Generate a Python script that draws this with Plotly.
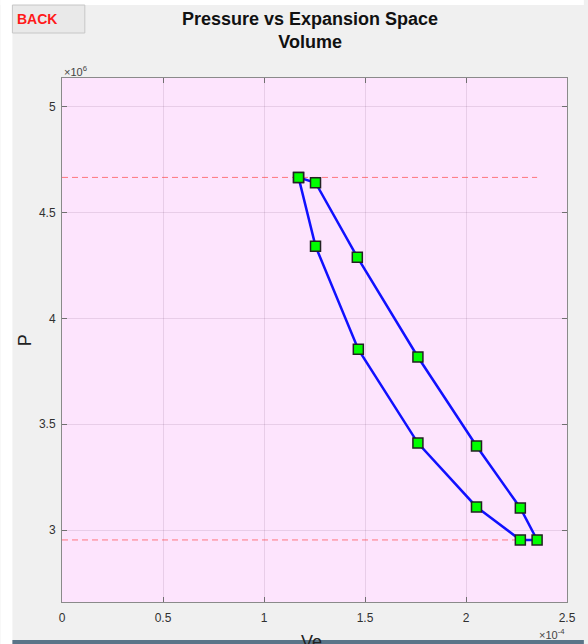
import plotly.graph_objects as go

# Data
ve_e4 = [1.171, 1.255, 1.462, 1.762, 2.052, 2.269, 2.352, 2.269, 2.052, 1.762, 1.467, 1.255, 1.171]
p_e6 = [4.667, 4.642, 4.290, 3.818, 3.397, 3.104, 2.953, 2.953, 3.109, 3.411, 3.854, 4.342, 4.667]
x_tick_vals = [0, 0.5, 1, 1.5, 2, 2.5]
y_tick_vals = [3, 3.5, 4, 4.5, 5]

ve = [v * 1e-4 for v in ve_e4]
p = [v * 1e6 for v in p_e6]
pmax, pmin, vmax = max(p), min(p), max(ve)

W, H = 588, 644
L, R, T, B = 62, 17, 78, 42
pw, ph = W - L - R, H - T - B

def px(x):
    return (x - L) / pw

def py(y):
    return (H - B - y) / ph

FONT = "Liberation Sans, Arial"

fig = go.Figure()
for lvl in (pmax, pmin):
    fig.add_trace(go.Scatter(x=[0, vmax], y=[lvl, lvl], mode="lines",
                             line=dict(color="rgba(255,60,60,0.65)", width=1, dash="6px,4px"),
                             hoverinfo="skip", showlegend=False))
fig.add_trace(go.Scatter(x=ve, y=p, mode="lines+markers",
                         line=dict(color="#1010ff", width=2.5),
                         marker=dict(symbol="square", size=10, color="#00ff00",
                                     line=dict(color="#222222", width=1.5)),
                         showlegend=False))

axis_common = dict(showline=True, linecolor="#8a8a8a", linewidth=1, mirror="ticks",
                   ticks="inside", ticklen=5, tickcolor="#707070",
                   showgrid=True, gridcolor="rgba(80,40,80,0.12)", gridwidth=1,
                   zeroline=False, tickfont=dict(family=FONT, size=12, color="#303030"))

fig.update_xaxes(range=[0, 2.5e-4], tickvals=[v * 1e-4 for v in x_tick_vals],
                 ticktext=[f"{v:g}" for v in x_tick_vals], ticklabelstandoff=5, **axis_common)
fig.update_yaxes(range=[2.6596e6, 5.137e6], tickvals=[v * 1e6 for v in y_tick_vals],
                 ticktext=[f"{v:g}" for v in y_tick_vals], ticklabelstandoff=3, **axis_common)

shapes = [
    dict(type="rect", xref="paper", yref="paper", x0=px(0), x1=px(12), y0=py(H), y1=py(0),
         fillcolor="white", line=dict(width=0), layer="below"),
    dict(type="rect", xref="paper", yref="paper", x0=px(0), x1=px(W), y0=py(5), y1=py(0),
         fillcolor="white", line=dict(width=0), layer="below"),
    dict(type="rect", xref="paper", yref="paper", x0=px(12), x1=px(W), y0=py(H), y1=py(640),
         fillcolor="#5a7488", line=dict(width=0)),
    dict(type="rect", xref="paper", yref="paper", x0=px(12), x1=px(85), y0=py(33), y1=py(5),
         fillcolor="#e9e9e9", line=dict(color="#c6c6c6", width=1)),
]

ann = [
    dict(x=px(15), y=py(19), xref="paper", yref="paper", text="<b>BACK</b>", showarrow=False,
         xanchor="left", yanchor="middle", font=dict(family=FONT, size=14, color="#ff1a1a")),
    dict(x=px(312), y=py(30), xref="paper", yref="paper",
         text="<b>Pressure vs Expansion Space<br>Volume</b>", showarrow=False,
         xanchor="center", yanchor="middle", font=dict(family=FONT, size=18, color="#111111")),
    dict(x=px(62), y=py(71), xref="paper", yref="paper", text="×10<sup>6</sup>", showarrow=False,
         xanchor="left", yanchor="middle", font=dict(family=FONT, size=11, color="#444444")),
    dict(x=px(571), y=py(634), xref="paper", yref="paper", text="×10<sup>-4</sup>", showarrow=False,
         xanchor="right", yanchor="middle", font=dict(family=FONT, size=11, color="#444444")),
    dict(x=px(25), y=py(340), xref="paper", yref="paper", text="P", showarrow=False, textangle=-90,
         xanchor="center", yanchor="middle", font=dict(family=FONT, size=18, color="#222222")),
    dict(x=px(313), y=py(642), xref="paper", yref="paper", text="Ve", showarrow=False,
         xanchor="center", yanchor="middle", font=dict(family=FONT, size=18, color="#222222")),
]

fig.update_layout(width=W, height=H, margin=dict(l=L, r=R, t=T, b=B),
                  paper_bgcolor="#f0f0f0", plot_bgcolor="#fde4fd",
                  shapes=shapes, annotations=ann, showlegend=False)

fig.write_html("out.html", config={"displayModeBar": False})
